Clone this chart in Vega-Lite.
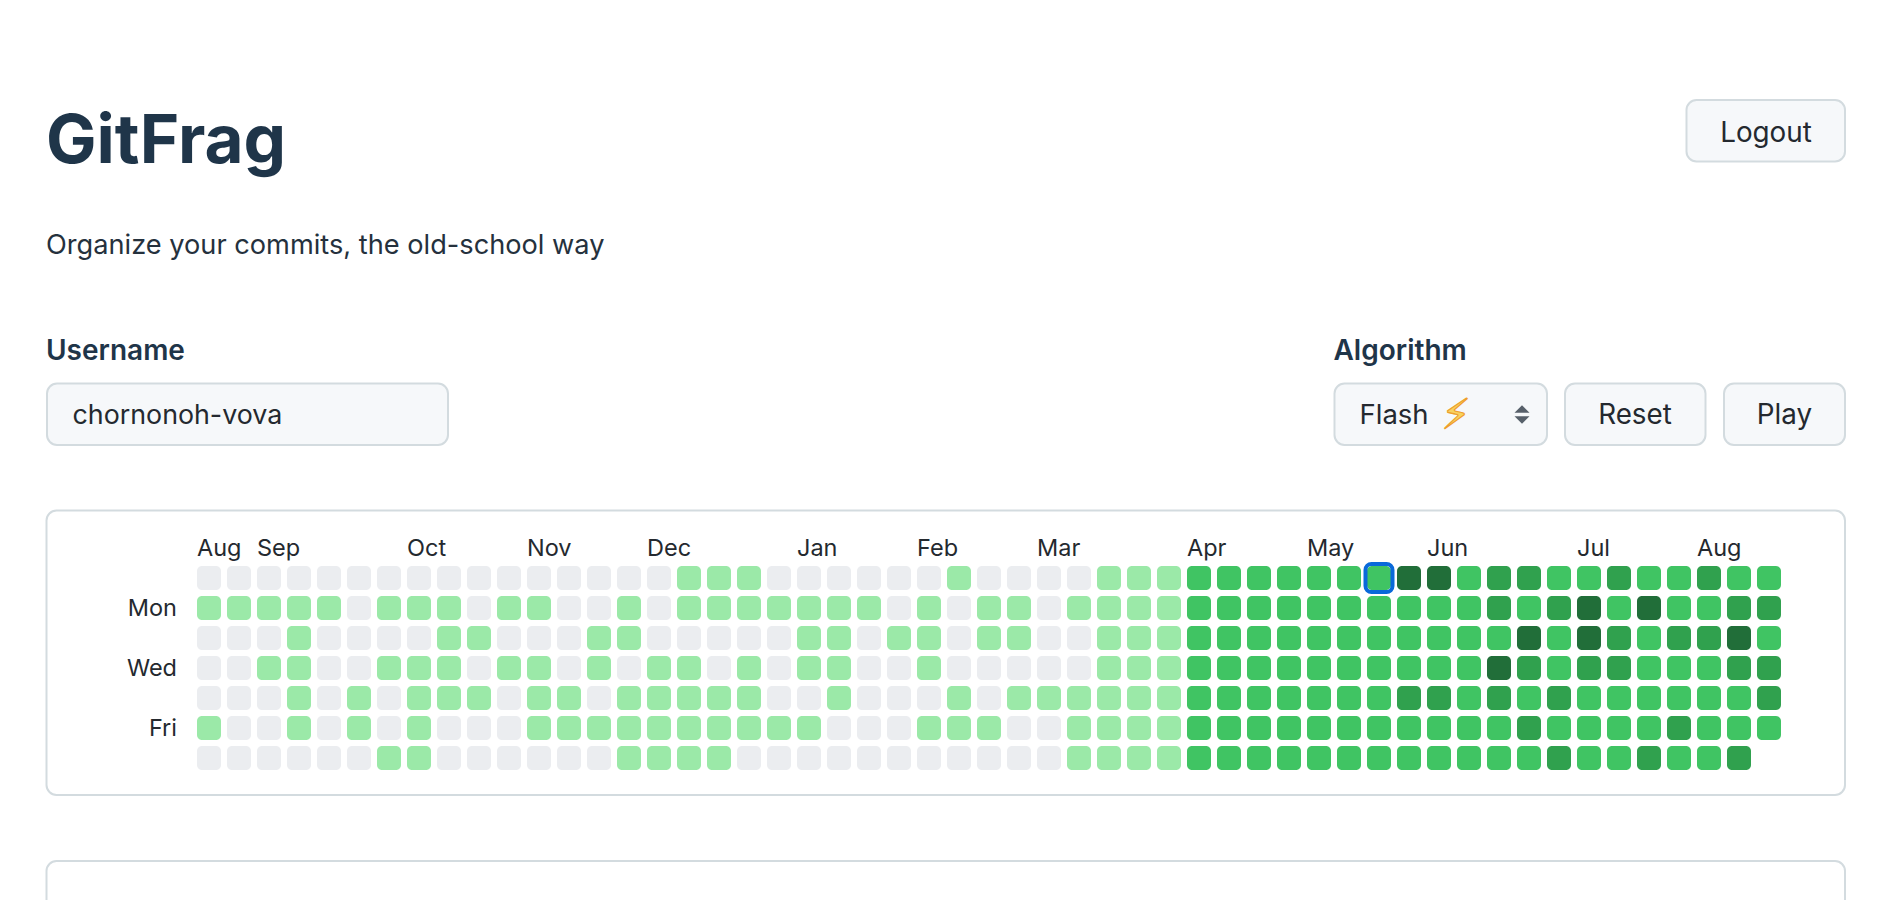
{
"$schema":"https://vega.github.io/schema/vega-lite/v6.json",
"width":1900,"height":900,"padding":0,
"autosize":{"type":"fit","contains":"padding"},
"background":"#ffffff",
"config":{"view":{"stroke":null},"axis":{"disable":true},"text":{"font":"Inter"}},
"datasets":{"cells":[
{"week":0,"day":0,"level":0},{"week":0,"day":1,"level":1},{"week":0,"day":2,"level":0},{"week":0,"day":3,"level":0},{"week":0,"day":4,"level":0},{"week":0,"day":5,"level":1},{"week":0,"day":6,"level":0},
{"week":1,"day":0,"level":0},{"week":1,"day":1,"level":1},{"week":1,"day":2,"level":0},{"week":1,"day":3,"level":0},{"week":1,"day":4,"level":0},{"week":1,"day":5,"level":0},{"week":1,"day":6,"level":0},
{"week":2,"day":0,"level":0},{"week":2,"day":1,"level":1},{"week":2,"day":2,"level":0},{"week":2,"day":3,"level":1},{"week":2,"day":4,"level":0},{"week":2,"day":5,"level":0},{"week":2,"day":6,"level":0},
{"week":3,"day":0,"level":0},{"week":3,"day":1,"level":1},{"week":3,"day":2,"level":1},{"week":3,"day":3,"level":1},{"week":3,"day":4,"level":1},{"week":3,"day":5,"level":1},{"week":3,"day":6,"level":0},
{"week":4,"day":0,"level":0},{"week":4,"day":1,"level":1},{"week":4,"day":2,"level":0},{"week":4,"day":3,"level":0},{"week":4,"day":4,"level":0},{"week":4,"day":5,"level":0},{"week":4,"day":6,"level":0},
{"week":5,"day":0,"level":0},{"week":5,"day":1,"level":0},{"week":5,"day":2,"level":0},{"week":5,"day":3,"level":0},{"week":5,"day":4,"level":1},{"week":5,"day":5,"level":1},{"week":5,"day":6,"level":0},
{"week":6,"day":0,"level":0},{"week":6,"day":1,"level":1},{"week":6,"day":2,"level":0},{"week":6,"day":3,"level":1},{"week":6,"day":4,"level":0},{"week":6,"day":5,"level":0},{"week":6,"day":6,"level":1},
{"week":7,"day":0,"level":0},{"week":7,"day":1,"level":1},{"week":7,"day":2,"level":0},{"week":7,"day":3,"level":1},{"week":7,"day":4,"level":1},{"week":7,"day":5,"level":1},{"week":7,"day":6,"level":1},
{"week":8,"day":0,"level":0},{"week":8,"day":1,"level":1},{"week":8,"day":2,"level":1},{"week":8,"day":3,"level":1},{"week":8,"day":4,"level":1},{"week":8,"day":5,"level":0},{"week":8,"day":6,"level":0},
{"week":9,"day":0,"level":0},{"week":9,"day":1,"level":0},{"week":9,"day":2,"level":1},{"week":9,"day":3,"level":0},{"week":9,"day":4,"level":1},{"week":9,"day":5,"level":0},{"week":9,"day":6,"level":0},
{"week":10,"day":0,"level":0},{"week":10,"day":1,"level":1},{"week":10,"day":2,"level":0},{"week":10,"day":3,"level":1},{"week":10,"day":4,"level":0},{"week":10,"day":5,"level":0},{"week":10,"day":6,"level":0},
{"week":11,"day":0,"level":0},{"week":11,"day":1,"level":1},{"week":11,"day":2,"level":0},{"week":11,"day":3,"level":1},{"week":11,"day":4,"level":1},{"week":11,"day":5,"level":1},{"week":11,"day":6,"level":0},
{"week":12,"day":0,"level":0},{"week":12,"day":1,"level":0},{"week":12,"day":2,"level":0},{"week":12,"day":3,"level":0},{"week":12,"day":4,"level":1},{"week":12,"day":5,"level":1},{"week":12,"day":6,"level":0},
{"week":13,"day":0,"level":0},{"week":13,"day":1,"level":0},{"week":13,"day":2,"level":1},{"week":13,"day":3,"level":1},{"week":13,"day":4,"level":0},{"week":13,"day":5,"level":1},{"week":13,"day":6,"level":0},
{"week":14,"day":0,"level":0},{"week":14,"day":1,"level":1},{"week":14,"day":2,"level":1},{"week":14,"day":3,"level":0},{"week":14,"day":4,"level":1},{"week":14,"day":5,"level":1},{"week":14,"day":6,"level":1},
{"week":15,"day":0,"level":0},{"week":15,"day":1,"level":0},{"week":15,"day":2,"level":0},{"week":15,"day":3,"level":1},{"week":15,"day":4,"level":1},{"week":15,"day":5,"level":1},{"week":15,"day":6,"level":1},
{"week":16,"day":0,"level":1},{"week":16,"day":1,"level":1},{"week":16,"day":2,"level":0},{"week":16,"day":3,"level":1},{"week":16,"day":4,"level":1},{"week":16,"day":5,"level":1},{"week":16,"day":6,"level":1},
{"week":17,"day":0,"level":1},{"week":17,"day":1,"level":1},{"week":17,"day":2,"level":0},{"week":17,"day":3,"level":0},{"week":17,"day":4,"level":1},{"week":17,"day":5,"level":1},{"week":17,"day":6,"level":1},
{"week":18,"day":0,"level":1},{"week":18,"day":1,"level":1},{"week":18,"day":2,"level":0},{"week":18,"day":3,"level":1},{"week":18,"day":4,"level":1},{"week":18,"day":5,"level":1},{"week":18,"day":6,"level":0},
{"week":19,"day":0,"level":0},{"week":19,"day":1,"level":1},{"week":19,"day":2,"level":0},{"week":19,"day":3,"level":0},{"week":19,"day":4,"level":0},{"week":19,"day":5,"level":1},{"week":19,"day":6,"level":0},
{"week":20,"day":0,"level":0},{"week":20,"day":1,"level":1},{"week":20,"day":2,"level":1},{"week":20,"day":3,"level":1},{"week":20,"day":4,"level":0},{"week":20,"day":5,"level":1},{"week":20,"day":6,"level":0},
{"week":21,"day":0,"level":0},{"week":21,"day":1,"level":1},{"week":21,"day":2,"level":1},{"week":21,"day":3,"level":1},{"week":21,"day":4,"level":1},{"week":21,"day":5,"level":0},{"week":21,"day":6,"level":0},
{"week":22,"day":0,"level":0},{"week":22,"day":1,"level":1},{"week":22,"day":2,"level":0},{"week":22,"day":3,"level":0},{"week":22,"day":4,"level":0},{"week":22,"day":5,"level":0},{"week":22,"day":6,"level":0},
{"week":23,"day":0,"level":0},{"week":23,"day":1,"level":0},{"week":23,"day":2,"level":1},{"week":23,"day":3,"level":0},{"week":23,"day":4,"level":0},{"week":23,"day":5,"level":0},{"week":23,"day":6,"level":0},
{"week":24,"day":0,"level":0},{"week":24,"day":1,"level":1},{"week":24,"day":2,"level":1},{"week":24,"day":3,"level":1},{"week":24,"day":4,"level":0},{"week":24,"day":5,"level":1},{"week":24,"day":6,"level":0},
{"week":25,"day":0,"level":1},{"week":25,"day":1,"level":0},{"week":25,"day":2,"level":0},{"week":25,"day":3,"level":0},{"week":25,"day":4,"level":1},{"week":25,"day":5,"level":1},{"week":25,"day":6,"level":0},
{"week":26,"day":0,"level":0},{"week":26,"day":1,"level":1},{"week":26,"day":2,"level":1},{"week":26,"day":3,"level":0},{"week":26,"day":4,"level":0},{"week":26,"day":5,"level":1},{"week":26,"day":6,"level":0},
{"week":27,"day":0,"level":0},{"week":27,"day":1,"level":1},{"week":27,"day":2,"level":1},{"week":27,"day":3,"level":0},{"week":27,"day":4,"level":1},{"week":27,"day":5,"level":0},{"week":27,"day":6,"level":0},
{"week":28,"day":0,"level":0},{"week":28,"day":1,"level":0},{"week":28,"day":2,"level":0},{"week":28,"day":3,"level":0},{"week":28,"day":4,"level":1},{"week":28,"day":5,"level":0},{"week":28,"day":6,"level":0},
{"week":29,"day":0,"level":0},{"week":29,"day":1,"level":1},{"week":29,"day":2,"level":0},{"week":29,"day":3,"level":0},{"week":29,"day":4,"level":1},{"week":29,"day":5,"level":1},{"week":29,"day":6,"level":1},
{"week":30,"day":0,"level":1},{"week":30,"day":1,"level":1},{"week":30,"day":2,"level":1},{"week":30,"day":3,"level":1},{"week":30,"day":4,"level":1},{"week":30,"day":5,"level":1},{"week":30,"day":6,"level":1},
{"week":31,"day":0,"level":1},{"week":31,"day":1,"level":1},{"week":31,"day":2,"level":1},{"week":31,"day":3,"level":1},{"week":31,"day":4,"level":1},{"week":31,"day":5,"level":1},{"week":31,"day":6,"level":1},
{"week":32,"day":0,"level":1},{"week":32,"day":1,"level":1},{"week":32,"day":2,"level":1},{"week":32,"day":3,"level":1},{"week":32,"day":4,"level":1},{"week":32,"day":5,"level":1},{"week":32,"day":6,"level":1},
{"week":33,"day":0,"level":2},{"week":33,"day":1,"level":2},{"week":33,"day":2,"level":2},{"week":33,"day":3,"level":2},{"week":33,"day":4,"level":2},{"week":33,"day":5,"level":2},{"week":33,"day":6,"level":2},
{"week":34,"day":0,"level":2},{"week":34,"day":1,"level":2},{"week":34,"day":2,"level":2},{"week":34,"day":3,"level":2},{"week":34,"day":4,"level":2},{"week":34,"day":5,"level":2},{"week":34,"day":6,"level":2},
{"week":35,"day":0,"level":2},{"week":35,"day":1,"level":2},{"week":35,"day":2,"level":2},{"week":35,"day":3,"level":2},{"week":35,"day":4,"level":2},{"week":35,"day":5,"level":2},{"week":35,"day":6,"level":2},
{"week":36,"day":0,"level":2},{"week":36,"day":1,"level":2},{"week":36,"day":2,"level":2},{"week":36,"day":3,"level":2},{"week":36,"day":4,"level":2},{"week":36,"day":5,"level":2},{"week":36,"day":6,"level":2},
{"week":37,"day":0,"level":2},{"week":37,"day":1,"level":2},{"week":37,"day":2,"level":2},{"week":37,"day":3,"level":2},{"week":37,"day":4,"level":2},{"week":37,"day":5,"level":2},{"week":37,"day":6,"level":2},
{"week":38,"day":0,"level":2},{"week":38,"day":1,"level":2},{"week":38,"day":2,"level":2},{"week":38,"day":3,"level":2},{"week":38,"day":4,"level":2},{"week":38,"day":5,"level":2},{"week":38,"day":6,"level":2},
{"week":39,"day":0,"level":2},{"week":39,"day":1,"level":2},{"week":39,"day":2,"level":2},{"week":39,"day":3,"level":2},{"week":39,"day":4,"level":2},{"week":39,"day":5,"level":2},{"week":39,"day":6,"level":2},
{"week":40,"day":0,"level":4},{"week":40,"day":1,"level":2},{"week":40,"day":2,"level":2},{"week":40,"day":3,"level":2},{"week":40,"day":4,"level":3},{"week":40,"day":5,"level":2},{"week":40,"day":6,"level":2},
{"week":41,"day":0,"level":4},{"week":41,"day":1,"level":2},{"week":41,"day":2,"level":2},{"week":41,"day":3,"level":2},{"week":41,"day":4,"level":3},{"week":41,"day":5,"level":2},{"week":41,"day":6,"level":2},
{"week":42,"day":0,"level":2},{"week":42,"day":1,"level":2},{"week":42,"day":2,"level":2},{"week":42,"day":3,"level":2},{"week":42,"day":4,"level":2},{"week":42,"day":5,"level":2},{"week":42,"day":6,"level":2},
{"week":43,"day":0,"level":3},{"week":43,"day":1,"level":3},{"week":43,"day":2,"level":2},{"week":43,"day":3,"level":4},{"week":43,"day":4,"level":3},{"week":43,"day":5,"level":2},{"week":43,"day":6,"level":2},
{"week":44,"day":0,"level":3},{"week":44,"day":1,"level":2},{"week":44,"day":2,"level":4},{"week":44,"day":3,"level":3},{"week":44,"day":4,"level":2},{"week":44,"day":5,"level":3},{"week":44,"day":6,"level":2},
{"week":45,"day":0,"level":2},{"week":45,"day":1,"level":3},{"week":45,"day":2,"level":2},{"week":45,"day":3,"level":2},{"week":45,"day":4,"level":3},{"week":45,"day":5,"level":2},{"week":45,"day":6,"level":3},
{"week":46,"day":0,"level":2},{"week":46,"day":1,"level":4},{"week":46,"day":2,"level":4},{"week":46,"day":3,"level":3},{"week":46,"day":4,"level":2},{"week":46,"day":5,"level":2},{"week":46,"day":6,"level":2},
{"week":47,"day":0,"level":3},{"week":47,"day":1,"level":2},{"week":47,"day":2,"level":3},{"week":47,"day":3,"level":3},{"week":47,"day":4,"level":2},{"week":47,"day":5,"level":2},{"week":47,"day":6,"level":2},
{"week":48,"day":0,"level":2},{"week":48,"day":1,"level":4},{"week":48,"day":2,"level":2},{"week":48,"day":3,"level":2},{"week":48,"day":4,"level":2},{"week":48,"day":5,"level":2},{"week":48,"day":6,"level":3},
{"week":49,"day":0,"level":2},{"week":49,"day":1,"level":2},{"week":49,"day":2,"level":3},{"week":49,"day":3,"level":2},{"week":49,"day":4,"level":2},{"week":49,"day":5,"level":3},{"week":49,"day":6,"level":2},
{"week":50,"day":0,"level":3},{"week":50,"day":1,"level":2},{"week":50,"day":2,"level":3},{"week":50,"day":3,"level":2},{"week":50,"day":4,"level":2},{"week":50,"day":5,"level":2},{"week":50,"day":6,"level":2},
{"week":51,"day":0,"level":2},{"week":51,"day":1,"level":3},{"week":51,"day":2,"level":4},{"week":51,"day":3,"level":3},{"week":51,"day":4,"level":2},{"week":51,"day":5,"level":2},{"week":51,"day":6,"level":3},
{"week":52,"day":0,"level":2},{"week":52,"day":1,"level":3},{"week":52,"day":2,"level":2},{"week":52,"day":3,"level":3},{"week":52,"day":4,"level":3},{"week":52,"day":5,"level":2}
],
"months":[{"month":"Aug","week":0},{"month":"Sep","week":2},{"month":"Oct","week":7},{"month":"Nov","week":11},{"month":"Dec","week":15},{"month":"Jan","week":20},{"month":"Feb","week":24},{"month":"Mar","week":28},{"month":"Apr","week":33},{"month":"May","week":37},{"month":"Jun","week":41},{"month":"Jul","week":46},{"month":"Aug","week":50}],
"days":[{"name":"Mon","day":1},{"name":"Wed","day":3},{"name":"Fri","day":5}]
},
"resolve":{"scale":{"x":"independent","y":"independent"}},
"layer":[
{"layer":[
{"data":{"values":[{"box":"contributions"}]},"mark":{"type":"rect","fill":"#ffffff","stroke":"#d3dbdf","strokeWidth":2,"cornerRadius":10},
 "encoding":{"x":{"datum":46.5,"type":"quantitative","scale":{"domain":[0,1900],"nice":false,"zero":false}},"x2":{"datum":1845},"y":{"datum":510.5,"type":"quantitative","scale":{"domain":[0,900],"nice":false,"zero":false,"reverse":true}},"y2":{"datum":795}}},
{"data":{"values":[{"box":"next"}]},"mark":{"type":"rect","fill":"#ffffff","stroke":"#d3dbdf","strokeWidth":2,"cornerRadius":10,"clip":true},
 "encoding":{"x":{"datum":46.5,"type":"quantitative"},"x2":{"datum":1845},"y":{"datum":861,"type":"quantitative"},"y2":{"datum":960}}},
{"data":{"values":[{"box":"username"}]},"mark":{"type":"rect","fill":"#f6f8fa","stroke":"#d3dbdf","strokeWidth":2,"cornerRadius":10},
 "encoding":{"x":{"datum":47,"type":"quantitative"},"x2":{"datum":448},"y":{"datum":383.5,"type":"quantitative"},"y2":{"datum":445}}},
{"data":{"values":[{"box":"logout"}]},"mark":{"type":"rect","fill":"#f6f8fa","stroke":"#d3dbdf","strokeWidth":2,"cornerRadius":10},
 "encoding":{"x":{"datum":1686.5,"type":"quantitative"},"x2":{"datum":1845},"y":{"datum":100,"type":"quantitative"},"y2":{"datum":161.5}}},
{"data":{"values":[{"box":"algorithm"}]},"mark":{"type":"rect","fill":"#f6f8fa","stroke":"#d3dbdf","strokeWidth":2,"cornerRadius":10},
 "encoding":{"x":{"datum":1334.5,"type":"quantitative"},"x2":{"datum":1547},"y":{"datum":383.5,"type":"quantitative"},"y2":{"datum":445}}},
{"data":{"values":[{"box":"reset"}]},"mark":{"type":"rect","fill":"#f6f8fa","stroke":"#d3dbdf","strokeWidth":2,"cornerRadius":10},
 "encoding":{"x":{"datum":1565,"type":"quantitative"},"x2":{"datum":1705.5},"y":{"datum":383.5,"type":"quantitative"},"y2":{"datum":445}}},
{"data":{"values":[{"box":"play"}]},"mark":{"type":"rect","fill":"#f6f8fa","stroke":"#d3dbdf","strokeWidth":2,"cornerRadius":10},
 "encoding":{"x":{"datum":1724,"type":"quantitative"},"x2":{"datum":1845},"y":{"datum":383.5,"type":"quantitative"},"y2":{"datum":445}}},
{"data":{"values":[{"label":"GitFrag"}]},"mark":{"type":"text","font":"Inter","fontSize":67.4,"fontWeight":700,"align":"left","baseline":"alphabetic","color":"#1f3549"},
 "encoding":{"x":{"datum":46,"type":"quantitative"},"y":{"datum":163,"type":"quantitative"},"text":{"field":"label"}}},
{"data":{"values":[{"label":"Organize your commits, the old-school way"}]},"mark":{"type":"text","font":"Inter","fontSize":27.2,"align":"left","baseline":"alphabetic","color":"#25313d"},
 "encoding":{"x":{"datum":46,"type":"quantitative"},"y":{"datum":253.5,"type":"quantitative"},"text":{"field":"label"}}},
{"data":{"values":[{"label":"Username"}]},"mark":{"type":"text","font":"Inter","fontSize":28,"fontWeight":600,"align":"left","baseline":"alphabetic","color":"#1f3549"},
 "encoding":{"x":{"datum":46,"type":"quantitative"},"y":{"datum":360,"type":"quantitative"},"text":{"field":"label"}}},
{"data":{"values":[{"label":"Algorithm"}]},"mark":{"type":"text","font":"Inter","fontSize":28,"fontWeight":600,"align":"left","baseline":"alphabetic","color":"#1f3549"},
 "encoding":{"x":{"datum":1333.5,"type":"quantitative"},"y":{"datum":360,"type":"quantitative"},"text":{"field":"label"}}},
{"data":{"values":[{"label":"chornonoh-vova"}]},"mark":{"type":"text","font":"Inter","fontSize":26.8,"align":"left","baseline":"alphabetic","color":"#24292f"},
 "encoding":{"x":{"datum":72.5,"type":"quantitative"},"y":{"datum":424,"type":"quantitative"},"text":{"field":"label"}}},
{"data":{"values":[{"label":"Flash"}]},"mark":{"type":"text","font":"Inter","fontSize":27.5,"align":"left","baseline":"alphabetic","color":"#24292f"},
 "encoding":{"x":{"datum":1359.5,"type":"quantitative"},"y":{"datum":424,"type":"quantitative"},"text":{"field":"label"}}},
{"data":{"values":[{"label":"⚡"}]},"mark":{"type":"text","font":"DejaVu Sans","fontSize":42,"align":"center","baseline":"middle","color":"#f8d25f","stroke":"#ee9f2c","strokeWidth":1.2},
 "encoding":{"x":{"datum":1456,"type":"quantitative"},"y":{"datum":416,"type":"quantitative"},"text":{"field":"label"}}},
{"data":{"values":[{"label":"Logout"}]},"mark":{"type":"text","font":"Inter","fontSize":27.8,"align":"center","baseline":"alphabetic","color":"#24292f"},
 "encoding":{"x":{"datum":1766,"type":"quantitative"},"y":{"datum":142,"type":"quantitative"},"text":{"field":"label"}}},
{"data":{"values":[{"label":"Reset"}]},"mark":{"type":"text","font":"Inter","fontSize":27.8,"align":"center","baseline":"alphabetic","color":"#24292f"},
 "encoding":{"x":{"datum":1635,"type":"quantitative"},"y":{"datum":424,"type":"quantitative"},"text":{"field":"label"}}},
{"data":{"values":[{"label":"Play"}]},"mark":{"type":"text","font":"Inter","fontSize":27.8,"align":"center","baseline":"alphabetic","color":"#24292f"},
 "encoding":{"x":{"datum":1784.5,"type":"quantitative"},"y":{"datum":424,"type":"quantitative"},"text":{"field":"label"}}},
{"data":{"values":[{"arrow":"up"}]},"mark":{"type":"point","filled":true,"opacity":1,"color":"#57606a","size":225,"shape":"M-1,0.5L1,0.5L0,-0.5Z"},
 "encoding":{"x":{"datum":1522,"type":"quantitative"},"y":{"datum":409,"type":"quantitative"}}},
{"data":{"values":[{"arrow":"down"}]},"mark":{"type":"point","filled":true,"opacity":1,"color":"#57606a","size":225,"shape":"M-1,-0.5L1,-0.5L0,0.5Z"},
 "encoding":{"x":{"datum":1522,"type":"quantitative"},"y":{"datum":420,"type":"quantitative"}}}
]},
{"layer":[
{"data":{"name":"cells"},"mark":{"type":"rect","width":24,"height":24,"cornerRadius":5},
 "encoding":{
  "x":{"field":"week","type":"quantitative","scale":{"domain":[-6.9667,56.3667],"nice":false,"zero":false}},
  "y":{"field":"day","type":"quantitative","scale":{"domain":[-19.2667,10.7333],"nice":false,"zero":false,"reverse":true}},
  "color":{"field":"level","type":"ordinal","legend":null,"scale":{"domain":[0,1,2,3,4],"range":["#ebedf0","#9be9a8","#40c463","#30a14e","#216e39"]}}}},
{"data":{"values":[{"week":39,"day":0}]},"mark":{"type":"rect","width":27,"height":28,"cornerRadius":6,"fillOpacity":0,"stroke":"#0969da","strokeWidth":4},
 "encoding":{"x":{"field":"week","type":"quantitative"},"y":{"field":"day","type":"quantitative"}}},
{"data":{"name":"months"},"mark":{"type":"text","font":"Inter","fontSize":23.5,"align":"left","baseline":"alphabetic","dx":-12,"dy":8,"color":"#24292f"},
 "encoding":{"x":{"field":"week","type":"quantitative"},"y":{"datum":-1,"type":"quantitative"},"text":{"field":"month"}}},
{"data":{"name":"days"},"mark":{"type":"text","font":"Inter","fontSize":23.5,"align":"right","baseline":"middle","dy":1,"color":"#24292f"},
 "encoding":{"x":{"datum":-1.067,"type":"quantitative"},"y":{"field":"day","type":"quantitative"},"text":{"field":"name"}}}
]}
]
}
